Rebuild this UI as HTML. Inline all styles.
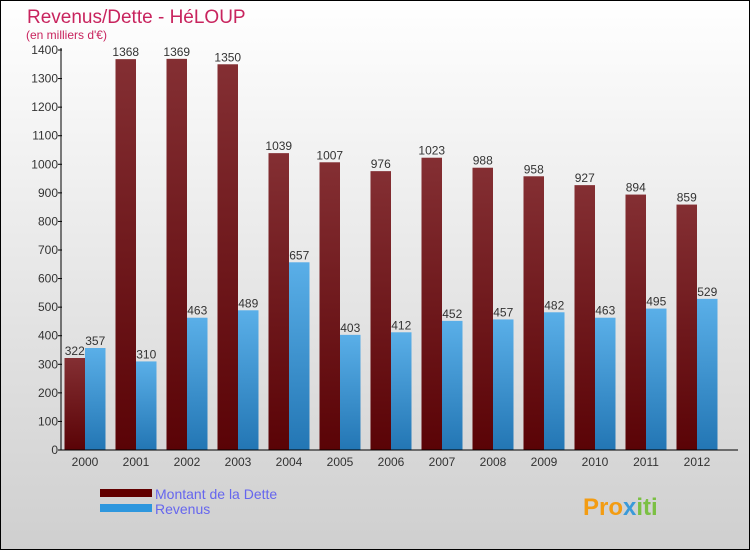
<!DOCTYPE html>
<html><head><meta charset="utf-8"><style>
body{margin:0}
svg{display:block;font-family:"Liberation Sans",sans-serif}
</style></head><body>
<svg id="c" width="750" height="550" xmlns="http://www.w3.org/2000/svg">
<defs>
<linearGradient id="bg" x1="0" y1="0" x2="0" y2="1"><stop offset="0" stop-color="#ffffff"/><stop offset="1" stop-color="#cfcfcf"/></linearGradient>
<linearGradient id="gd" x1="0" y1="0" x2="0" y2="1"><stop offset="0" stop-color="#842f33"/><stop offset="1" stop-color="#5a0306"/></linearGradient>
<linearGradient id="gr" x1="0" y1="0" x2="0" y2="1"><stop offset="0" stop-color="#5aafe8"/><stop offset="1" stop-color="#2376b4"/></linearGradient>
</defs>
<rect x="0.5" y="0.5" width="749" height="549" fill="url(#bg)" stroke="#000"/>
<text x="27" y="23" font-size="19" fill="#c8245e">Revenus/Dette - HéLOUP</text>
<text x="26" y="39" font-size="12" fill="#c8245e">(en milliers d'€)</text>
<g id="bars"></g>
<g id="axes"></g>
<rect x="100" y="489" width="52" height="8" fill="#620000"/>
<text x="155" y="499" font-size="14" fill="#6666ee">Montant de la Dette</text>
<rect x="100" y="504" width="52" height="8" fill="#2e97de"/>
<text x="155" y="514" font-size="14" fill="#6666ee">Revenus</text>
<text x="583" y="515" font-size="24" font-weight="bold" fill="#f39c12">Pro<tspan fill="#3a9ad9">x</tspan><tspan fill="#7bc043">iti</tspan></text>
</svg>
<script>
const years=["2000","2001","2002","2003","2004","2005","2006","2007","2008","2009","2010","2011","2012"];
const dette=[322,1368,1369,1350,1039,1007,976,1023,988,958,927,894,859];
const revenus=[357,310,463,489,657,403,412,452,457,482,463,495,529];
const yTicks=[0,100,200,300,400,500,600,700,800,900,1000,1100,1200,1300,1400];
const NS="http://www.w3.org/2000/svg";
const y0=450,yTop=50,yMax=1400;
const y=v=>y0-(v/yMax)*(y0-yTop);
const xc=i=>85+i*51;
const bw=20.5;
function mk(t,a,p){const e=document.createElementNS(NS,t);for(const k in a)e.setAttribute(k,a[k]);p.appendChild(e);return e;}
const bars=document.getElementById('bars'),axes=document.getElementById('axes');
years.forEach((yr,i)=>{
  const d=mk('rect',{x:xc(i)-bw,y:y(dette[i]),width:bw,height:y0-y(dette[i]),fill:'url(#gd)'},bars);
  
  
  const r=mk('rect',{x:xc(i),y:y(revenus[i]),width:bw,height:y0-y(revenus[i]),fill:'url(#gr)'},bars);
  
  
  const t1=mk('text',{x:xc(i)-bw/2,y:y(dette[i])-3,'font-size':12,fill:'#333','text-anchor':'middle'},bars);t1.textContent=dette[i];
  
  
  const t2=mk('text',{x:xc(i)+bw/2,y:y(revenus[i])-3,'font-size':12,fill:'#333','text-anchor':'middle'},bars);t2.textContent=revenus[i];
  
  
  const xl=mk('text',{x:xc(i),y:466,'font-size':12,fill:'#333','text-anchor':'middle'},axes);xl.textContent=yr;
  
  
});
yTicks.forEach(v=>{
  mk('line',{x1:58,x2:62,y1:y(v),y2:y(v),stroke:'#000'},axes);
  const t=mk('text',{x:58,y:y(v)+4,'font-size':12,fill:'#333','text-anchor':'end'},axes);t.textContent=v;
  
  
});
const ya=mk('line',{x1:61,x2:61,y1:48,y2:450,stroke:'#000'},axes);


const xa=mk('line',{x1:61,x2:738,y1:450,y2:450,stroke:'#000'},axes);


</script>
</body></html>
